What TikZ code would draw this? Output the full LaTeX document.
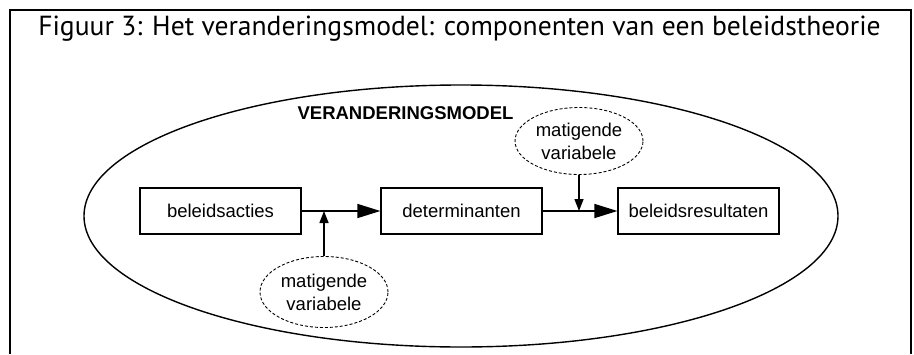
\documentclass[tikz,border=0pt]{standalone}
\usepackage{fontspec}
\setmainfont{Liberation Sans}
\newfontfamily\titlefont{PT Sans}
\usetikzlibrary{shapes.geometric,arrows.meta}
\begin{document}
\begin{tikzpicture}[x=1pt,y=-1pt,
  box/.style={draw, line width=1.2pt, minimum width=161pt, minimum height=46pt, inner sep=0pt, font=\fontsize{18.5}{22}\selectfont},
  modvar/.style={draw, line width=0.9pt, dash pattern=on 3pt off 2pt, ellipse, minimum width=128pt, inner sep=0pt, align=center, font=\fontsize{18.5}{23}\selectfont},
  mainarrow/.style={line width=1.4pt, -{Triangle[length=23pt,width=14pt]}},
  modarrow/.style={line width=1.4pt, -{Triangle[length=12pt,width=9pt]}},
  frame/.style={line width=2pt}
]
\useasboundingbox (0,0) rectangle (914,354);
\draw[frame] (10,354) -- (10,10) -- (911,10) -- (911,354);
\node[anchor=base, font=\titlefont\fontsize{27.6}{32}\selectfont] (title) at (459.5,35) {Figuur 3: Het veranderingsmodel: componenten van een beleidstheorie};
\node[draw, ellipse, line width=1.4pt, minimum width=754pt, minimum height=262pt, inner sep=0pt] (model) at (461,216) {};
\node[font=\bfseries\fontsize{18.5}{22}\selectfont] (modellabel) at (405.5,113) {VERANDERINGSMODEL};
\node[box] (acties) at (220.5,211) {beleidsacties};
\node[box] (determ) at (461.5,211) {determinanten};
\node[box] (result) at (698.5,211) {beleidsresultaten};
\node[modvar, minimum height=71pt] (mv1) at (324,292) {matigende\\variabele};
\node[modvar, minimum height=67pt] (mv2) at (579,141) {matigende\\variabele};
\coordinate (j1) at (324,211);
\coordinate (j2) at (579,211);
\draw[mainarrow] (acties.east) -- (determ.west);
\draw[mainarrow] (determ.east) -- (result.west);
\draw[modarrow] (mv1.north) -- (j1);
\draw[modarrow] (mv2.south) -- (j2);
\end{tikzpicture}
\end{document}
